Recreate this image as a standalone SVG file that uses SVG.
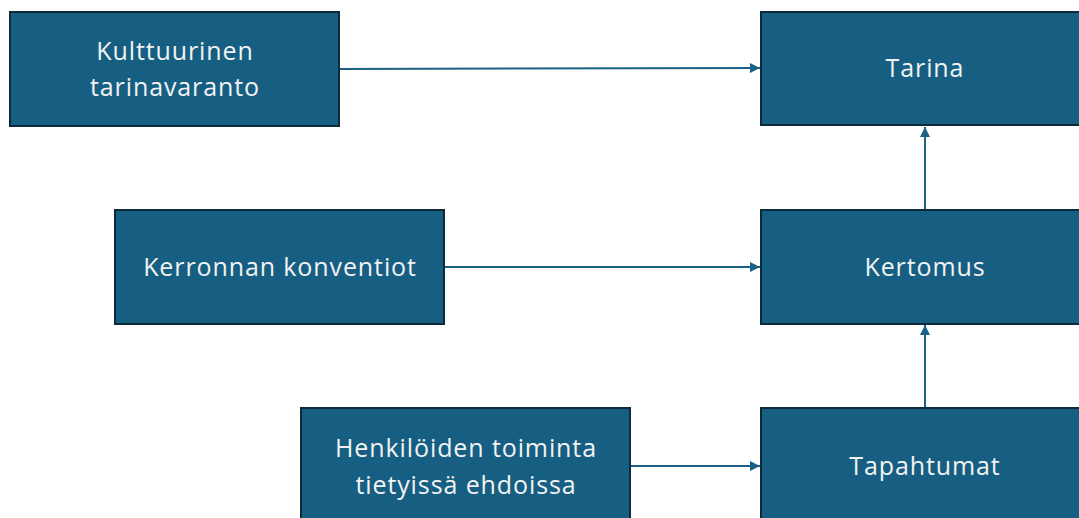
<svg xmlns="http://www.w3.org/2000/svg" width="1079" height="518" viewBox="0 0 1079 518">
<defs>
<style>
.box{fill:#165f82;stroke:#0d2a3b;stroke-width:2}
.t{font-family:"Open Sans","Liberation Sans",sans-serif;font-size:25px;letter-spacing:0.9px;fill:#f2f2f2;text-anchor:middle;dominant-baseline:central}
.c{stroke:#1b6187;stroke-width:2;fill:none;marker-end:url(#ah)}
</style>
<marker id="ah" viewBox="0 0 10 10" refX="10" refY="5" markerWidth="5" markerHeight="5" orient="auto" markerUnits="strokeWidth">
<path d="M0,0 L10,5 L0,10 z" fill="#1b6187"/>
</marker>
</defs>
<rect width="1079" height="518" fill="#ffffff"/>
<g id="connectors">
<line class="c" x1="340" y1="69" x2="760" y2="68"/>
<line class="c" x1="445" y1="267" x2="760" y2="267"/>
<line class="c" x1="631" y1="466" x2="760" y2="466"/>
<line class="c" x1="925" y1="209" x2="925" y2="127"/>
<line class="c" x1="925" y1="407" x2="925" y2="325"/>
</g>
<g id="n1"><rect class="box" x="10" y="12" width="329" height="114"/><text class="t" x="175" y="50">Kulttuurinen</text><text class="t" x="175" y="86">tarinavaranto</text></g>
<g id="n2"><rect class="box" x="761" y="12" width="330" height="113"/><text class="t" x="925" y="67">Tarina</text></g>
<g id="n3"><rect class="box" x="115" y="210" width="329" height="114"/><text class="t" x="280" y="266">Kerronnan konventiot</text></g>
<g id="n4"><rect class="box" x="761" y="210" width="330" height="114"/><text class="t" x="925" y="266">Kertomus</text></g>
<g id="n5"><rect class="box" x="301" y="408" width="329" height="120"/><text class="t" x="466" y="447">Henkilöiden toiminta</text><text class="t" x="466" y="484">tietyissä ehdoissa</text></g>
<g id="n6"><rect class="box" x="761" y="408" width="330" height="120"/><text class="t" x="925" y="465">Tapahtumat</text></g>
</svg>
